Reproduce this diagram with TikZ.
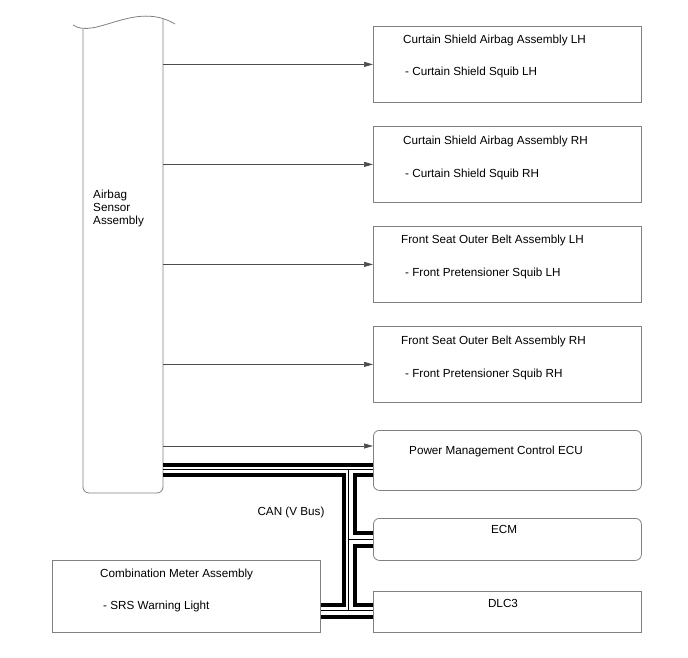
\documentclass[tikz,border=0pt]{standalone}
\usepackage{fontspec}
\setmainfont{Liberation Sans}
\usetikzlibrary{positioning,arrows.meta}

\begin{document}
\begin{tikzpicture}[x=1pt, y=-1pt,
  box/.style={draw=black!50, line width=0.8pt, minimum width=268pt,
              inner sep=0pt, anchor=north west},
  rbox/.style={box, rounded corners=6pt},
  lbl/.style={font=\fontsize{11.7}{13}\selectfont, anchor=west, inner sep=0pt},
  ar/.style={-{Triangle[length=9pt,width=5pt]}, draw=black!70, line width=0.7pt},
  bus/.style={line width=4pt, line join=miter},
  wire/.style={line width=0.9pt},
]
\useasboundingbox (0,0) rectangle (688,658);

% airbag sensor (wavy top = cut-off edge)
\node[anchor=north west, minimum width=80pt, minimum height=475pt, inner sep=0pt]
  (sensor) at (83,18) {};
\draw[draw=black!50, line width=0.8pt] (73,25) .. controls (95,40) and (135,0) .. (175,24);
\draw[draw=black!50, line width=0.8pt, rounded corners=6pt]
  (83,28.3) -- (83,493) -- (163,493) -- (163,18.6);
\node[lbl, align=left] (sensortxt) at (93,208) {Airbag\\Sensor\\Assembly};

% squib boxes
\node[box, minimum height=76pt] (cslh) at (373,26)  {};
\node[box, minimum height=76pt] (csrh) at (373,126) {};
\node[box, minimum height=76pt] (fslh) at (373,226) {};
\node[box, minimum height=76pt] (fsrh) at (373,326) {};

\node[lbl] (cslh1) at (403,40)  {Curtain Shield Airbag Assembly LH};
\node[lbl] (cslh2) at (405,72)  {- Curtain Shield Squib LH};
\node[lbl] (csrh1) at (403,141) {Curtain Shield Airbag Assembly RH};
\node[lbl] (csrh2) at (405,174) {- Curtain Shield Squib RH};
\node[lbl] (fslh1) at (401,240) {Front Seat Outer Belt Assembly LH};
\node[lbl] (fslh2) at (405,273) {- Front Pretensioner Squib LH};
\node[lbl] (fsrh1) at (401,341) {Front Seat Outer Belt Assembly RH};
\node[lbl] (fsrh2) at (405,374) {- Front Pretensioner Squib RH};

% ECUs on the bus
\node[rbox, minimum height=60pt] (pmc)  at (373,430) {};
\node[rbox, minimum height=42pt] (ecm)  at (373,518) {};
\node[box,  minimum height=41pt] (dlc)  at (373,591) {};
\node[box,  minimum height=72pt] (meter) at (52,560) {};

\node[lbl] (pmctxt) at (409,451) {Power Management Control ECU};
\node[lbl, anchor=center] (ecmtxt) at (504,529) {ECM};
\node[lbl, anchor=center] (dlctxt) at (503,603) {DLC3};
\node[lbl] (meter1) at (100,574) {Combination Meter Assembly};
\node[lbl] (meter2) at (103,606) {- SRS Warning Light};
\node[lbl, anchor=center] (can) at (291,512) {CAN (V Bus)};

% squib lines
\draw[ar] (sensor.east |- cslh.west) -- (cslh.west);
\draw[ar] (sensor.east |- csrh.west) -- (csrh.west);
\draw[ar] (sensor.east |- fslh.west) -- (fslh.west);
\draw[ar] (sensor.east |- fsrh.west) -- (fsrh.west);
\draw[ar] (sensor.east |- 0,446) -- (pmc.west |- 0,446);

% CAN bus
\draw[bus]  (sensor.east |- 0,464.7) -- (pmc.west |- 0,464.7);
\draw[wire] (sensor.east |- 0,469.5) -- (pmc.west |- 0,469.5);
\draw[bus]  (sensor.east |- 0,475) -- (343.5,475) -- (343.5,604.7) -- (meter.east |- 0,604.7);
\draw[wire] (348.5,469.5) -- (348.5,610);
\draw[bus]  (pmc.west |- 0,475) -- (354.5,475) -- (354.5,532.5) -- (ecm.west |- 0,532.5);
\draw[wire] (348.5,539) -- (ecm.west |- 0,539);
\draw[bus]  (ecm.west |- 0,546) -- (354.5,546) -- (354.5,604.7) -- (dlc.west |- 0,604.7);
\draw[wire] (meter.east |- 0,610.5) -- (dlc.west |- 0,610.5);
\draw[bus]  (meter.east |- 0,617) -- (dlc.west |- 0,617);
\end{tikzpicture}
\end{document}
